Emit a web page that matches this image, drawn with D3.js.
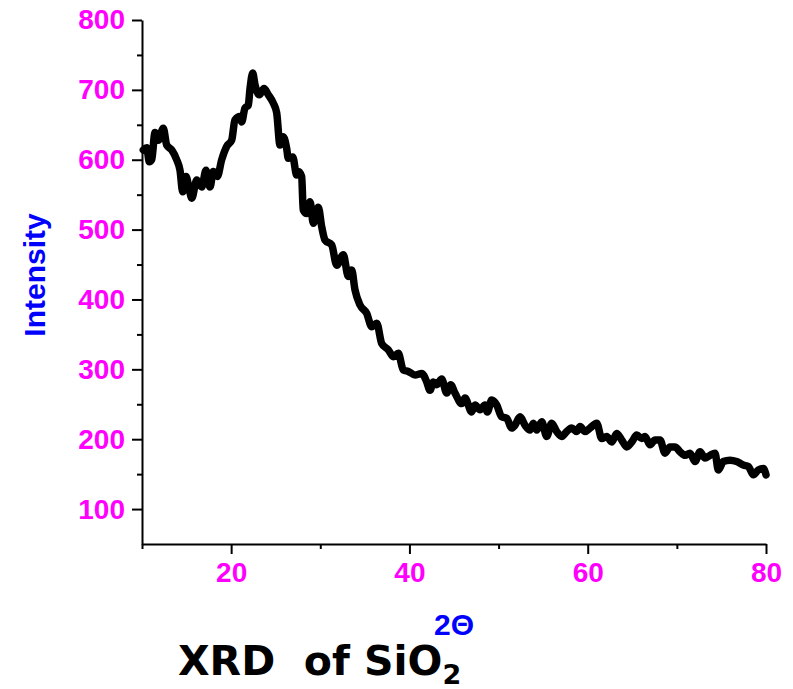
<!DOCTYPE html>
<html>
<head>
<meta charset="utf-8">
<script src="https://cdn.jsdelivr.net/npm/d3@7"></script>
<style>
  html, body { margin: 0; padding: 0; background: #fff; }
  svg { display: block; }
</style>
</head>
<body>
<svg id="chart" width="793" height="689"></svg>
<script>
// ---- data ----
const twoTheta = [10.15,10.53,10.82,11.09,11.46,11.83,12.39,12.77,13.33,13.89,14.26,14.57,14.94,15.31,15.58,16.14,16.70,17.18,17.63,18.00,18.45,18.94,19.50,20.06,20.43,20.99,21.18,21.55,21.92,22.12,22.42,22.68,23.16,23.69,24.17,24.73,25.11,25.48,25.85,26.23,26.41,26.91,27.35,27.53,27.91,28.09,28.48,28.85,29.22,29.78,30.16,30.53,31.28,31.84,32.58,33.14,33.52,33.89,34.46,35.21,35.77,36.33,36.89,37.63,38.19,38.75,39.31,39.87,40.63,41.38,41.94,42.31,42.68,43.06,43.62,44.18,44.63,45.11,45.86,46.23,46.98,47.36,47.92,48.48,48.74,49.23,49.79,50.35,50.91,51.47,51.84,52.41,52.97,53.53,53.90,54.28,54.84,55.40,55.96,56.52,57.08,57.64,58.20,58.77,59.14,59.70,60.26,61.01,61.57,62.13,62.69,63.25,63.81,64.37,64.94,65.50,66.06,66.43,66.99,67.55,68.11,68.67,69.23,69.79,70.36,70.92,71.48,72.04,72.60,73.16,73.72,74.28,74.65,75.21,75.96,76.71,77.45,78.02,78.58,79.14,79.70,80.00];
const intensity = [614,617,597,600,639,628,645,621,614,600,585,554,576,557,545,571,561,585,561,583,576,600,619,628,657,662,654,674,678,702,724,707,693,702,693,681,667,621,633,616,602,604,578,583,576,528,523,540,509,532,504,485,478,449,464,433,442,414,392,380,361,366,337,328,318,323,299,297,292,294,282,270,282,278,286,266,278,266,251,259,239,249,242,249,239,256,249,232,230,216,220,232,220,213,223,213,225,204,223,211,204,211,216,211,218,211,216,223,201,204,196,208,199,189,196,206,201,204,192,199,199,180,189,189,182,177,180,168,182,173,177,180,156,168,170,168,163,161,149,156,158,149];
const xMajorTicks = [20, 40, 60, 80];
const xMinorTicks = [10, 30, 50, 70];
const yMajorTicks = [100, 200, 300, 400, 500, 600, 700, 800];
const yMinorTicks = [150, 250, 350, 450, 550, 650, 750];

const svg = d3.select("#chart");
const x = d3.scaleLinear().domain([10, 80]).range([142, 766]);
const y = d3.scaleLinear().domain([50, 800]).range([544, 20]);

const labelFont = "'Liberation Sans', Arial, sans-serif";

// minor ticks
const gxMinor = svg.append("g").attr("transform", `translate(0,${y(50)})`)
  .call(d3.axisBottom(x).tickValues(xMinorTicks).tickSize(5).tickSizeOuter(0).tickFormat(""));
gxMinor.select(".domain").remove();
const gyMinor = svg.append("g").attr("transform", `translate(${x(10)},0)`)
  .call(d3.axisLeft(y).tickValues(yMinorTicks).tickSize(5).tickSizeOuter(0).tickFormat(""));
gyMinor.select(".domain").remove();

// major axes
const gx = svg.append("g").attr("transform", `translate(0,${y(50)})`)
  .call(d3.axisBottom(x).tickValues(xMajorTicks).tickSize(10).tickSizeOuter(0).tickPadding(8).tickFormat(d3.format("d")));
const gy = svg.append("g").attr("transform", `translate(${x(10)},0)`)
  .call(d3.axisLeft(y).tickValues(yMajorTicks).tickSize(10).tickSizeOuter(0).tickPadding(7).tickFormat(d3.format("d")));

svg.selectAll(".domain").attr("stroke", "#000").attr("stroke-width", 2);
svg.selectAll(".tick line").attr("stroke", "#000").attr("stroke-width", 2);
svg.selectAll(".tick text")
  .attr("fill", "#FF00FF")
  .style("font-family", labelFont)
  .style("font-weight", "bold")
  .style("font-size", "28px");

// curve
const pts = twoTheta.map((d, i) => [d, intensity[i]]);
svg.append("path")
  .datum(pts)
  .attr("fill", "none")
  .attr("stroke", "#000")
  .attr("stroke-width", 7.5)
  .attr("stroke-linejoin", "round")
  .attr("stroke-linecap", "round")
  .attr("d", d3.line().curve(d3.curveMonotoneX).x(d => x(d[0])).y(d => y(d[1])));

// axis titles
svg.append("text")
  .attr("transform", "translate(45,275) rotate(-90)")
  .attr("text-anchor", "middle")
  .attr("fill", "#0000FF")
  .style("font-family", labelFont)
  .style("font-weight", "bold")
  .style("font-size", "30px")
  .text("Intensity");

svg.append("text")
  .attr("x", 454).attr("y", 635)
  .attr("text-anchor", "middle")
  .attr("fill", "#0000FF")
  .style("font-family", labelFont)
  .style("font-weight", "bold")
  .style("font-size", "30px")
  .text("2Θ");

// caption
const cap = svg.append("text")
  .attr("x", 178).attr("y", 675)
  .attr("fill", "#000")
  .style("font-family", "'DejaVu Sans', sans-serif")
  .style("font-weight", "bold")
  .style("font-size", "41px")
  .style("white-space", "pre")
  .attr("xml:space", "preserve");
cap.append("tspan").text("XRD  of SiO");
cap.append("tspan").attr("dy", 9).style("font-size", "27px").text("2");
</script>
</body>
</html>
